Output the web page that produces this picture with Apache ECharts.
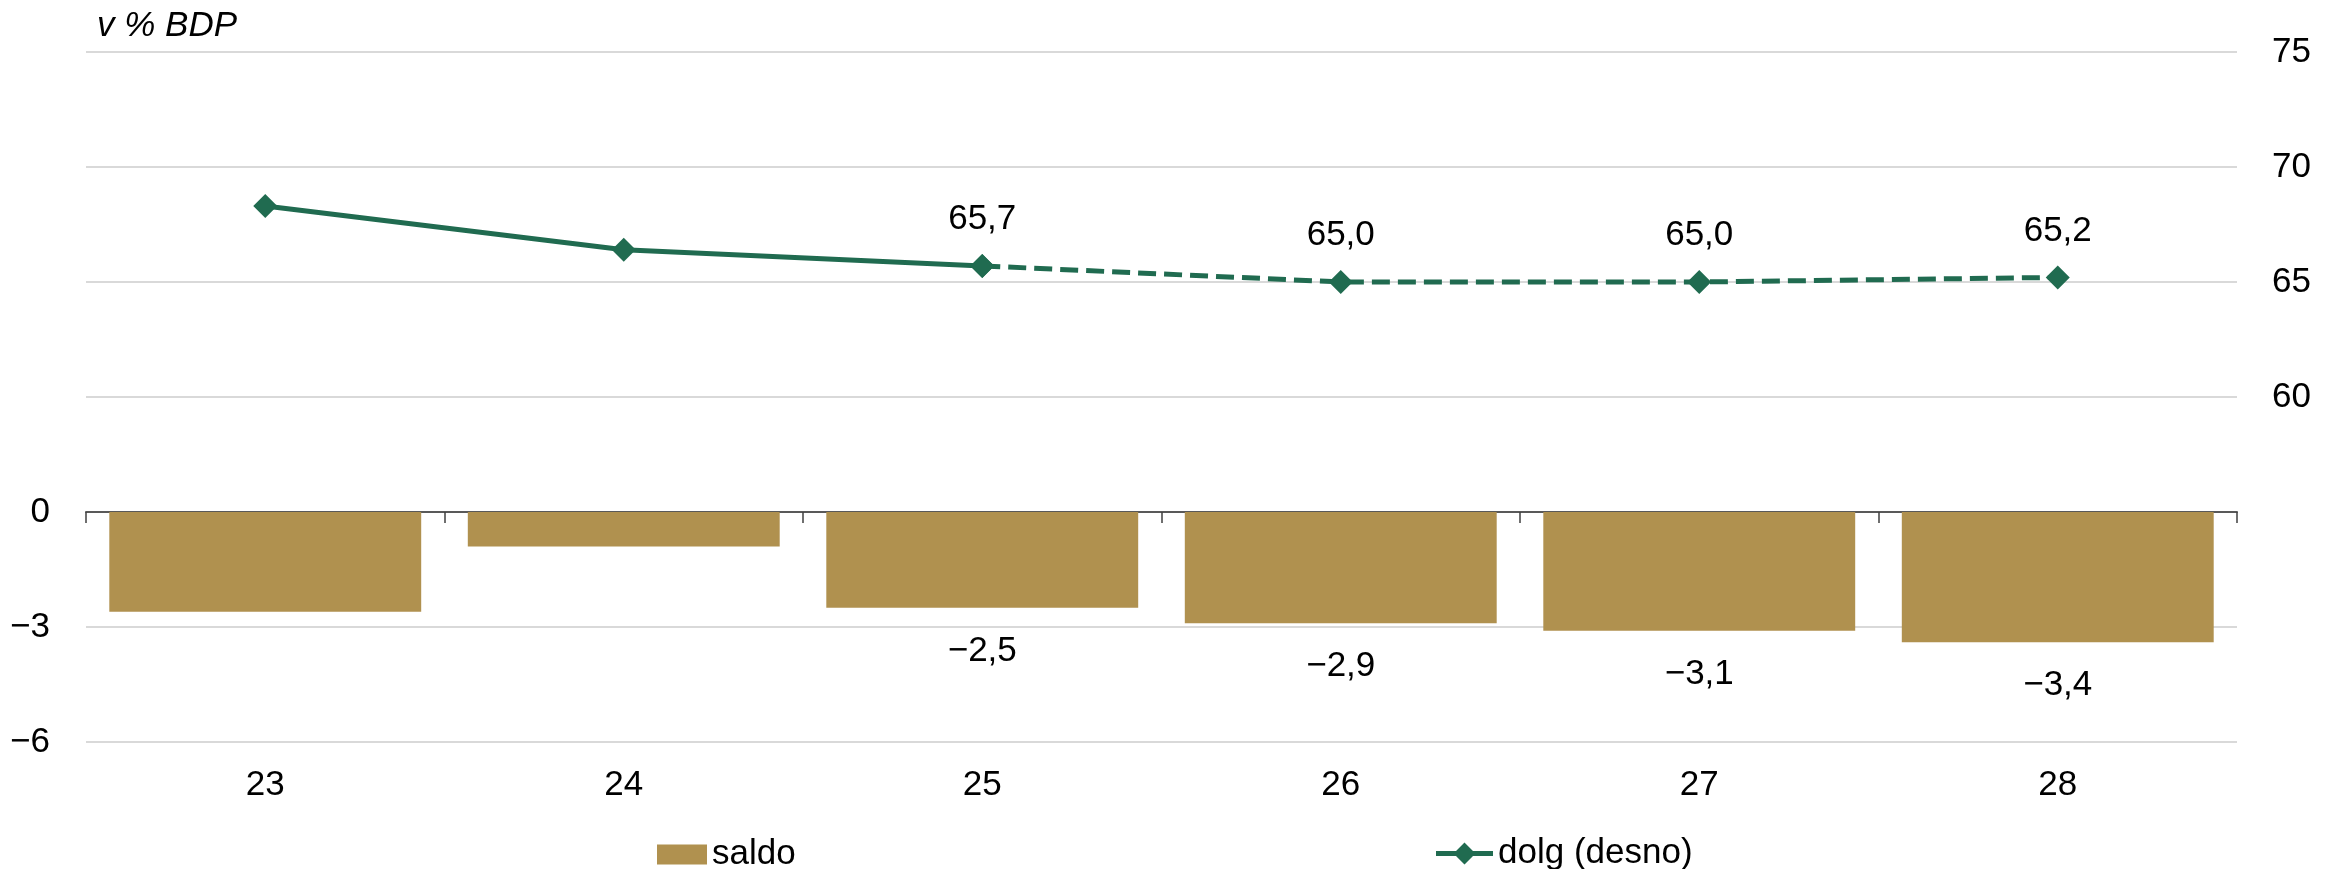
<!DOCTYPE html>
<html>
<head>
<meta charset="utf-8">
<script src="https://cdn.jsdelivr.net/npm/echarts@6/dist/echarts.min.js"></script>
<style>
  html, body { margin: 0; padding: 0; background: #fff; }
  #chart { width: 2338px; height: 869px; }
</style>
</head>
<body>
<div id="chart"></div>
<script>
// podatki (v % BDP)
const years = ['23', '24', '25', '26', '27', '28']
const saldo = [-2.6, -0.9, -2.5, -2.9, -3.1, -3.4]
const dolg = [68.3, 66.4, 65.7, 65.0, 65.0, 65.2]
const leftTicks = [-6, -3, 0]        // shown on the left axis
const rightTicks = [60, 65, 70, 75]  // shown on the right axis
const lastActual = 2                 // index 25: solid up to here, dashed after

const FONT = '"Liberation Sans", Arial, sans-serif'
const FS = 35
const GREEN = '#206B50'
const GOLD = '#B0914F'
// legend icon: line with a diamond in the middle
const LINE_ICON = 'path://M0,8.5 L20,8.5 L28.5,0 L37,8.5 L57,8.5 L57,13.5 L37,13.5 L28.5,22 L20,13.5 L0,13.5 Z'

function fmt(v) {
  let s = Math.abs(v).toFixed(1).replace('.', ',')
  return v < 0 ? '\u2212' + s : s
}
function tick(v) {
  return v < 0 ? '\u2212' + Math.abs(v) : String(v)
}

const dolgSolid = dolg.map((v, i) => i <= lastActual ? v : '-')
const dolgDash = dolg.map((v, i) => i >= lastActual ? v : '-')

const chart = echarts.init(document.getElementById('chart'))
chart.setOption({
  animation: false,
  textStyle: { fontFamily: FONT },
  title: {
    text: 'v % BDP',
    left: 97,
    top: 9,
    padding: 0,
    textStyle: { fontFamily: FONT, fontSize: FS, fontStyle: 'italic', fontWeight: 'normal', color: '#000' }
  },
  grid: { left: 86, right: 101, top: 52, bottom: 127 },
  legend: [{
    data: [{ name: 'saldo', icon: 'rect' }],
    left: 657,
    top: 837,
    padding: 0,
    itemWidth: 50,
    itemHeight: 20,
    textStyle: { fontFamily: FONT, fontSize: FS, color: '#000' }
  }, {
    data: [{ name: 'dolg (desno)', icon: LINE_ICON }],
    left: 1436,
    top: 836,
    padding: 0,
    itemWidth: 57,
    itemHeight: 22,
    textStyle: { fontFamily: FONT, fontSize: FS, color: '#000' }
  }],
  xAxis: [{
    type: 'category',
    data: years,
    axisLine: { show: false, onZero: false },
    axisTick: { show: false },
    axisLabel: { fontSize: FS, color: '#000', margin: 26, fontFamily: FONT }
  }, {
    // zero line with ticks between categories
    type: 'category',
    data: years,
    position: 'top',
    axisLine: { show: true, onZero: true, onZeroAxisIndex: 0, lineStyle: { color: '#595959', width: 2 } },
    axisTick: { show: true, inside: true, length: 11, lineStyle: { color: '#404040', width: 1.5 } },
    axisLabel: { show: false }
  }],
  yAxis: [{
    type: 'value',
    min: -6,
    max: 12,
    interval: 3,
    axisLine: { show: false },
    axisTick: { show: false },
    splitLine: { show: true, lineStyle: { color: '#d9d9d9', width: 2 } },
    axisLabel: {
      fontSize: FS, color: '#000', margin: 36, fontFamily: FONT,
      formatter: v => leftTicks.includes(v) ? tick(v) : ''
    }
  }, {
    type: 'value',
    position: 'right',
    min: 45,
    max: 75,
    interval: 5,
    axisLine: { show: false },
    axisTick: { show: false },
    splitLine: { show: false },
    axisLabel: {
      fontSize: FS, color: '#000', margin: 35, fontFamily: FONT,
      formatter: v => rightTicks.includes(v) ? tick(v) : ''
    }
  }],
  series: [{
    name: 'saldo',
    type: 'bar',
    xAxisIndex: 0,
    yAxisIndex: 0,
    data: saldo,
    barCategoryGap: '13%',
    itemStyle: { color: GOLD },
    label: {
      show: true,
      position: 'bottom',
      distance: 26,
      fontSize: FS,
      color: '#000',
      fontFamily: FONT,
      formatter: p => p.dataIndex >= lastActual ? fmt(p.value) : ''
    }
  }, {
    name: 'dolg (desno)',
    type: 'line',
    xAxisIndex: 0,
    yAxisIndex: 1,
    data: dolgSolid,
    symbol: 'diamond',
    symbolSize: [24, 24],
    itemStyle: { color: GREEN },
    lineStyle: { color: GREEN, width: 5 },
    z: 5
  }, {
    name: 'dolg napoved',
    type: 'line',
    xAxisIndex: 0,
    yAxisIndex: 1,
    data: dolgDash,
    symbol: 'diamond',
    symbolSize: [24, 24],
    itemStyle: { color: GREEN },
    lineStyle: { color: GREEN, width: 5, type: [18, 8] },
    label: {
      show: true,
      position: 'top',
      distance: 17,
      fontSize: FS,
      color: '#000',
      fontFamily: FONT,
      formatter: p => fmt(p.value)
    },
    z: 5
  }]
})
</script>
</body>
</html>
